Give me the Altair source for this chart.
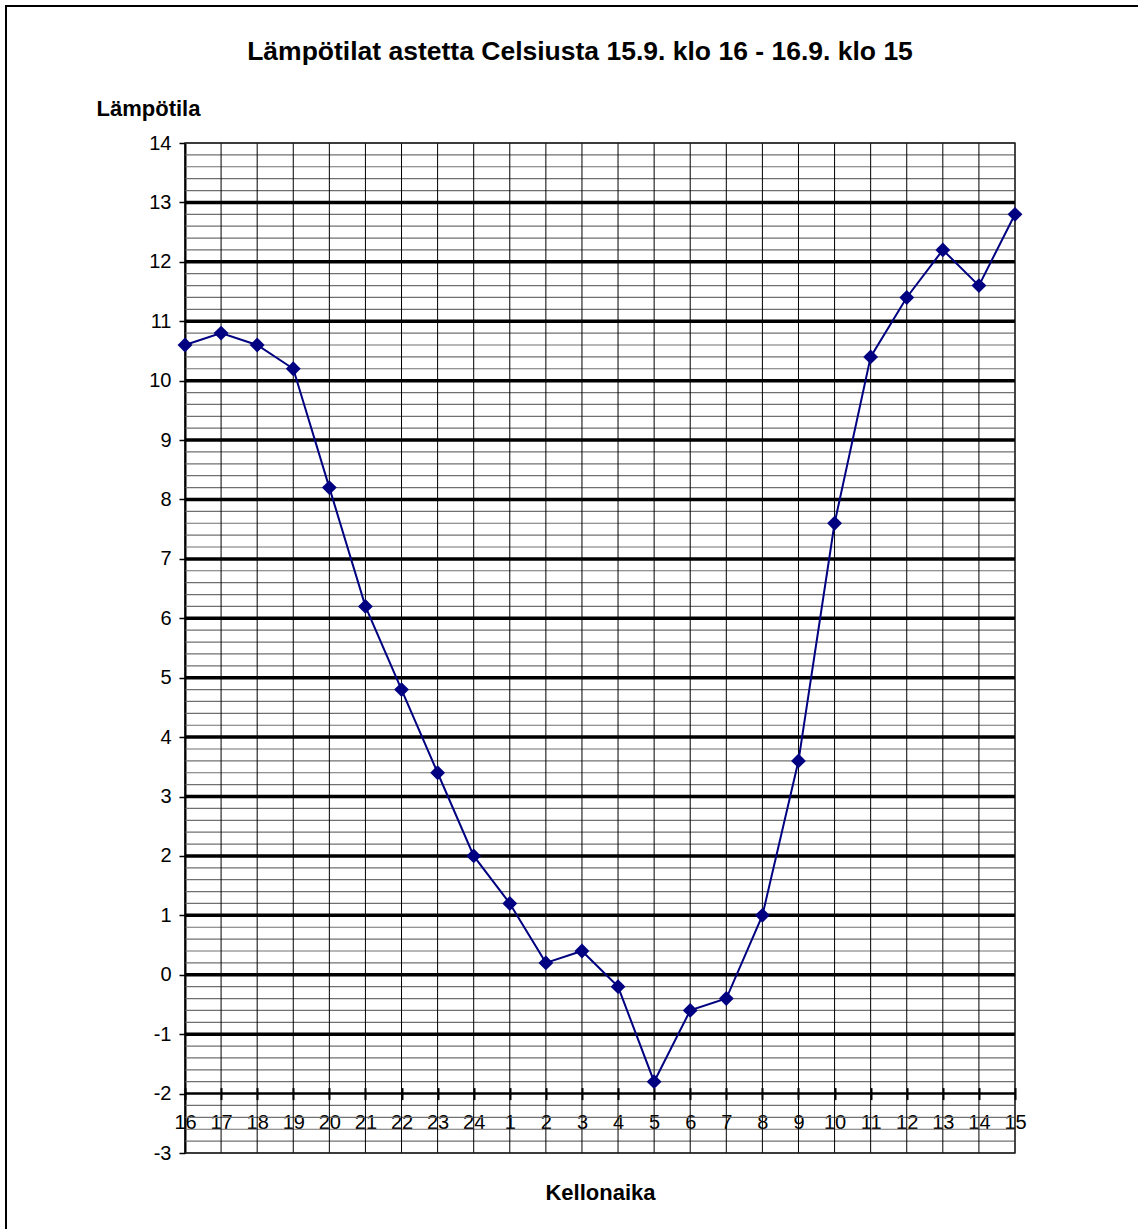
import altair as alt
import pandas as pd

# ---- data ----
hours = ["16", "17", "18", "19", "20", "21", "22", "23", "24",
         "1", "2", "3", "4", "5", "6", "7", "8", "9", "10",
         "11", "12", "13", "14", "15"]
temps = [10.6, 10.8, 10.6, 10.2, 8.2, 6.2, 4.8, 3.4, 2.0,
         1.2, 0.2, 0.4, -0.2, -1.8, -0.6, -0.4, 1.0, 3.6, 7.6,
         10.4, 11.4, 12.2, 11.6, 12.8]
y_ticks = list(range(-3, 15))

title_text = "Lämpötilat astetta Celsiusta 15.9. klo 16 - 16.9. klo 15"
FONT = "Liberation Sans"

W, H = 830, 1010
unit = H / 17.0

df = pd.DataFrame({"hour": hours, "temp": temps})
minor_vals = [round(-3 + 0.2 * k, 1) for k in range(0, 86) if k % 5 != 0]
minor_df = pd.DataFrame({"v": minor_vals})
major_df = pd.DataFrame({"v": list(range(-1, 14))})
edge_df = pd.DataFrame({"v": [-3, 14]})
axis_df = pd.DataFrame({"v": [-2]})
vgrid_df = pd.DataFrame({"hour": hours})

xdef = alt.X(
    "hour:O", sort=hours,
    scale=alt.Scale(type="point", padding=0),
    axis=alt.Axis(
        title="Kellonaika", labelAngle=0, domain=False,
        offset=-(unit + 6), tickSize=12, tickWidth=2, tickColor="black",
        labelPadding=13, labelFontSize=20, labelFont=FONT, labelColor="black",
        titleFont=FONT, titleFontSize=22, titleFontWeight="bold", titleColor="black",
        titleX=415, titleY=unit + 6 + 39, titleBaseline="middle", titleAlign="center",
        grid=False,
    ),
)

def ydef(field):
    return alt.Y(
        f"{field}:Q",
        scale=alt.Scale(domain=[-3, 14], nice=False, zero=False),
        axis=alt.Axis(
            title="Lämpötila", values=y_ticks, grid=False,
            labelExpr="toString(datum.value)",
            tickSize=6, tickColor="black", tickWidth=1.5,
            domainColor="black", domainWidth=2,
            labelFontSize=20, labelFont=FONT, labelColor="black", labelPadding=8,
            titleFont=FONT, titleFontSize=22, titleFontWeight="bold", titleColor="black",
            titleAngle=0, titleX=-37, titleY=-35, titleAlign="center", titleBaseline="middle",
        ),
    )

minor = alt.Chart(minor_df).mark_rule(color="#707070", strokeWidth=1.2).encode(
    y=ydef("v"), x=alt.value(0), x2=alt.value(W))
vgrid = alt.Chart(vgrid_df).mark_rule(color="black", strokeWidth=1).encode(
    x=xdef, y=alt.value(0), y2=alt.value(H))
major = alt.Chart(major_df).mark_rule(color="black", strokeWidth=3.5).encode(
    y=ydef("v"), x=alt.value(0), x2=alt.value(W))
edges = alt.Chart(edge_df).mark_rule(color="#222222", strokeWidth=1.5).encode(
    y=ydef("v"), x=alt.value(0), x2=alt.value(W))
xline = alt.Chart(axis_df).mark_rule(color="black", strokeWidth=2.5).encode(
    y=ydef("v"), x=alt.value(0), x2=alt.value(W))

line = alt.Chart(df).mark_line(color="#000080", strokeWidth=2).encode(
    x=xdef, y=ydef("temp"))
pts = alt.Chart(df).mark_point(shape="diamond", filled=True, size=220,
                               color="#000080", opacity=1).encode(
    x=xdef, y=ydef("temp"))

frame = alt.Chart(pd.DataFrame({"a": [0]})).mark_rect(
    filled=False, stroke="black", strokeWidth=2).encode(
    x=alt.value(-179), y=alt.value(-137), x2=alt.value(1400), y2=alt.value(1400))

chart = alt.layer(minor, vgrid, major, edges, xline, line, pts, frame).properties(
    width=W, height=H,
    autosize=alt.AutoSizeParams(type="none"),
    padding={"left": 185, "top": 143, "right": 123, "bottom": 76},
    title=alt.TitleParams(
        text=title_text, font=FONT, fontSize=26.5, fontWeight="bold", color="black",
        anchor="middle", dx=-20, offset=-60,
    ),
    background="white",
).configure_view(stroke="#8a8a8a", strokeWidth=2)

chart.save("out.html", embed_options={"renderer": "svg", "actions": False})
